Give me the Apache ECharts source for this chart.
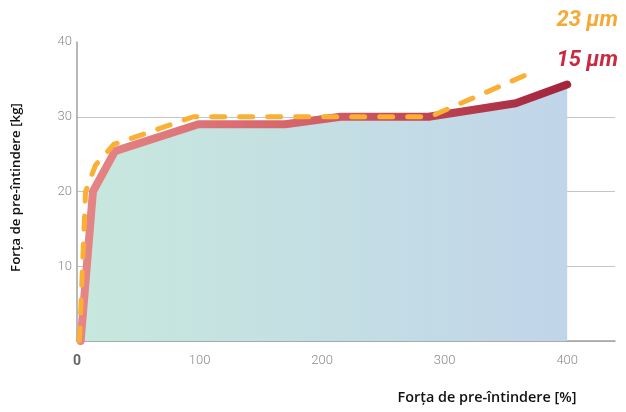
<!DOCTYPE html>
<html>
<head>
<meta charset="utf-8">
<script src="https://cdn.jsdelivr.net/npm/echarts@6/dist/echarts.min.js"></script>
<style>
  html, body { margin: 0; padding: 0; background: #fff; }
</style>
</head>
<body>
<div id="chart" style="width: 626px; height: 412px"></div>
<script>
  // date: [forta %, forta kg]
  var xTicks = [0, 100, 200, 300, 400];
  var yTicks = [0, 10, 20, 30, 40];
  var names = ['23 µm', '15 µm'];
  var film23 = [[2, 0], [7, 20], [15, 23.5], [30, 26.3], [95, 30], [288, 30], [365, 35.5]];
  var film15 = [[3, 0], [13, 20], [31, 25.4], [99, 29], [170, 29], [215, 30], [287, 30], [358, 31.8], [400, 34.3]];

  var labelFont = 'Roboto';
  var nameFont = '"Open Sans"';

  var chart = echarts.init(document.getElementById('chart'));

  var option = {
    animation: false,
    grid: {
      left: 77,
      right: 11,
      top: 42,
      bottom: 71
    },
    legend: {
      data: [
        {name: names[0], textStyle: {color: '#f6a935'}},
        {name: names[1], textStyle: {color: '#c92a40'}}
      ],
      orient: 'vertical',
      right: 3,
      top: 8,
      padding: 0,
      icon: 'none',
      itemWidth: 0,
      itemHeight: 14,
      itemGap: 16,
      align: 'right',
      selectedMode: false,
      textStyle: {
        fontFamily: labelFont,
        fontSize: 22,
        fontWeight: 'bold',
        fontStyle: 'italic',
        lineHeight: 24
      }
    },
    xAxis: {
      type: 'value',
      min: xTicks[0],
      max: 439,
      interval: 100,
      name: 'Forța de pre-întindere [%]',
      nameLocation: 'middle',
      nameGap: 50,
      nameTextStyle: {
        fontFamily: nameFont,
        fontSize: 14.4,
        fontWeight: 600,
        color: '#111',
        padding: [0, 0, 0, 282]
      },
      axisLine: {lineStyle: {color: '#a0a0a0', width: 1.5}},
      axisTick: {show: false},
      splitLine: {show: false},
      axisLabel: {
        showMaxLabel: false,
        margin: 13,
        color: '#8a8a8a',
        fontFamily: labelFont,
        fontSize: 13,
        fontWeight: 300,
        formatter: function (value) {
          if (value == 0) {
            return '{zero|0}';
          }
          return value;
        },
        rich: {
          zero: {
            color: '#666',
            fontWeight: 'bold',
            fontFamily: labelFont,
            fontSize: 14
          }
        }
      }
    },
    yAxis: {
      type: 'value',
      min: yTicks[0],
      max: yTicks[yTicks.length - 1],
      interval: 10,
      name: 'Forța de pre-întindere [kg]',
      nameLocation: 'middle',
      nameGap: 54,
      nameTextStyle: {
        fontFamily: nameFont,
        fontSize: 13.3,
        fontWeight: 600,
        color: '#111',
        padding: [0, 0, 0, 8]
      },
      axisLine: {show: true, lineStyle: {color: '#a0a0a0', width: 1.5}},
      axisTick: {show: false},
      splitLine: {
        lineStyle: {
          // fara linie la 40
          color: ['#c4c4c4', '#c4c4c4', '#c4c4c4', '#c4c4c4', 'rgba(0,0,0,0)'],
          width: 1
        }
      },
      axisLabel: {
        showMinLabel: false,
        margin: 5,
        color: '#8a8a8a',
        fontFamily: labelFont,
        fontSize: 13,
        fontWeight: 300
      }
    },
    series: [
      {
        name: names[1],
        type: 'line',
        data: film15,
        showSymbol: false,
        z: 2,
        lineStyle: {
          width: 8,
          cap: 'round',
          join: 'round',
          color: new echarts.graphic.LinearGradient(0, 0, 1, 0, [
            {offset: 0, color: '#e68686'},
            {offset: 0.45, color: '#d5646a'},
            {offset: 1, color: '#a2233a'}
          ])
        },
        areaStyle: {
          opacity: 1,
          color: new echarts.graphic.LinearGradient(0, 0, 1, 0, [
            {offset: 0, color: '#c7e8dd'},
            {offset: 1, color: '#c1d5ea'}
          ])
        }
      },
      {
        name: names[0],
        type: 'line',
        data: film23,
        showSymbol: false,
        z: 3,
        lineStyle: {
          width: 5,
          type: [13, 15],
          cap: 'round',
          join: 'round',
          color: '#f9b035'
        }
      }
    ]
  };

  chart.setOption(option);
</script>
</body>
</html>
